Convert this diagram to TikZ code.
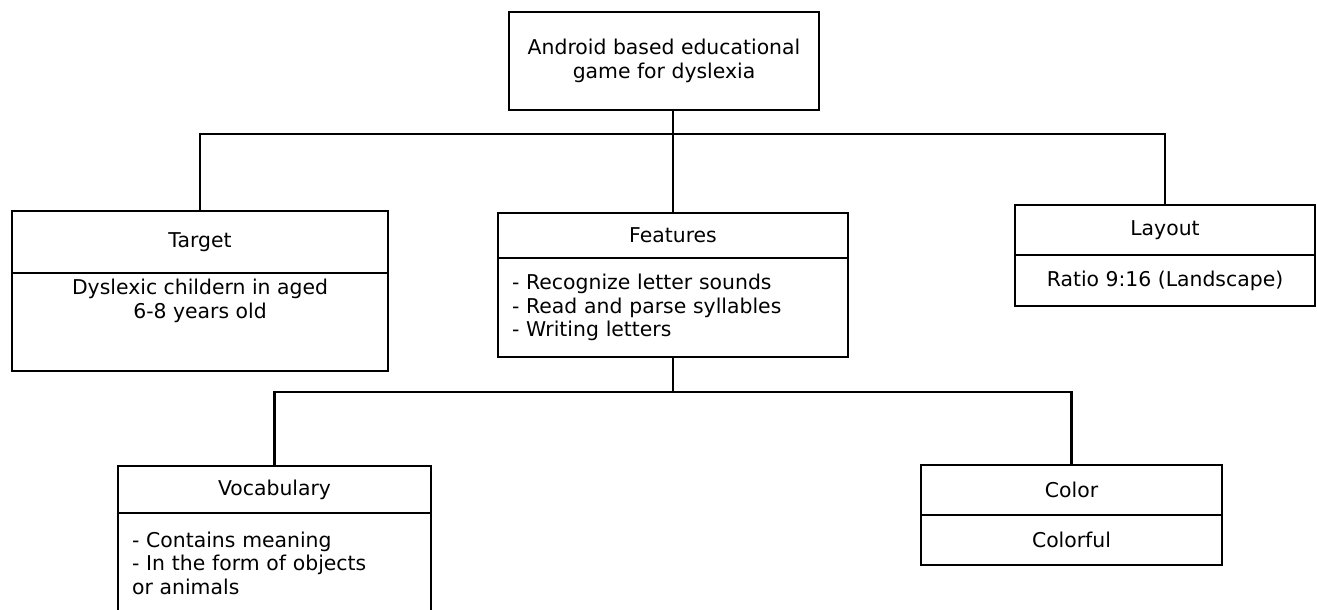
\documentclass[tikz,border=0pt]{standalone}
\usepackage{fontspec}
\setmainfont{DejaVu Sans}
\usepackage{tikz}
\usetikzlibrary{positioning}

\begin{document}
\begin{tikzpicture}[x=0.02cm,y=-0.02cm,font=\fontsize{11.6}{13.4}\selectfont,
    box/.style={draw,line width=1.3pt,outer sep=0pt,align=center},
    listbox/.style={box,align=left,inner xsep=0.28cm},
    link/.style={line width=1.3pt}]
  \useasboundingbox (0,0) rectangle (1317,609);
  \clip (0,0) rectangle (1317,609);

  % root
  \node[box,minimum width=6.2cm,minimum height=1.96cm] (root) at (664,61) {Android based educational\\game for dyslexia};

  % first level
  \node[box,minimum width=7.52cm,minimum height=1.24cm] (target) at (200,242) {Target};
  \node[box,minimum width=7.52cm,minimum height=1.96cm,below=0pt of target] (targetbody) {};
  \node[anchor=north,align=center] (targettext) at (targetbody.north) {Dyslexic childern in aged\\6-8 years old};

  \node[box,minimum width=7.0cm,minimum height=0.9cm] (features) at (673,235.5) {Features};
  \node[listbox,text width=6.44cm,minimum height=1.98cm,below=0pt of features] (featuresbody) {- Recognize letter sounds\\- Read and parse syllables\\- Writing letters};

  \node[box,minimum width=6.0cm,minimum height=1.0cm] (layout) at (1165,230) {Layout};
  \node[box,minimum width=6.0cm,minimum height=1.02cm,below=0pt of layout] (layoutbody) {Ratio 9:16 (Landscape)};

  % second level
  \node[box,minimum width=6.26cm,minimum height=0.94cm] (vocab) at (274.5,489.5) {Vocabulary};
  \node[listbox,text width=5.7cm,minimum height=2.0cm,below=0pt of vocab] (vocabbody) {- Contains meaning\\- In the form of objects\\or animals};

  \node[box,minimum width=6.02cm,minimum height=1.0cm] (color) at (1071.5,490) {Color};
  \node[box,minimum width=6.02cm,minimum height=1.0cm,below=0pt of color] (colorbody) {Colorful};

  % connectors
  \coordinate (busone) at (0,134);
  \coordinate (bustwo) at (0,392);
  \draw[link] (root.south -| features.north) -- (features.north);
  \draw[link] (target.north) -- (target.north |- busone) -- (layout.north |- busone) -- (layout.north);
  \draw[link] (featuresbody.south) -- (featuresbody.south |- bustwo);
  \draw[link] (vocab.north) -- (vocab.north |- bustwo) -- (color.north |- bustwo) -- (color.north);
\end{tikzpicture}
\end{document}
